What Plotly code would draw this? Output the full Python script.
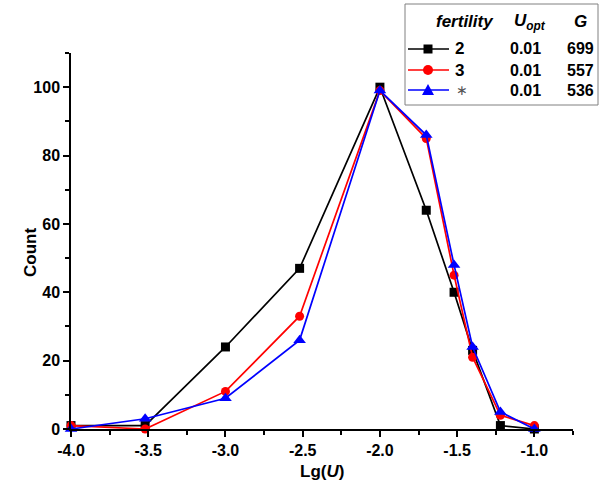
import plotly.graph_objects as go

# Data
lg_u = [-4.0, -3.52, -3.0, -2.52, -2.0, -1.7, -1.52, -1.4, -1.22, -1.0]
count_f2 = [1, 1, 24, 47, 100, 64, 40, 23, 1, 0]
count_f3 = [1, 0, 11, 33, 99, 85, 45, 21, 4, 1]
count_fs = [0, 3, 9, 26, 99, 86, 48, 24, 5, 0]

x_tick_vals = [-4.0, -3.5, -3.0, -2.5, -2.0, -1.5, -1.0]
x_tick_labels = ["-4.0", "-3.5", "-3.0", "-2.5", "-2.0", "-1.5", "-1.0"]

series_names = ["2", "3", "∗"]
series_uopt = ["0.01", "0.01", "0.01"]
series_g = ["699", "557", "536"]
colors = ["#000000", "#ff0000", "#0000ff"]
symbols = ["square", "circle", "triangle-up"]

FONT = "Liberation Sans, Arial, sans-serif"

fig = go.Figure()
for ys, c, s, n in zip([count_f2, count_f3, count_fs], colors, symbols, series_names):
    fig.add_trace(go.Scatter(
        x=lg_u, y=ys, mode="lines+markers", name=n,
        line=dict(color=c, width=1.7),
        marker=dict(color=c, symbol=s, size=9 if s != "triangle-up" else 11),
        cliponaxis=False, showlegend=False))

L, R, T, B = 71, 573, 53, 429
W, H = R - L, B - T


def px(x):
    return (x - L) / W


def py(y):
    return (B - y) / H


fig.update_layout(
    width=600, height=492,
    margin=dict(l=L, r=600 - R, t=T, b=492 - B, autoexpand=False),
    plot_bgcolor="white", paper_bgcolor="white",
    font=dict(family=FONT, size=16, color="black"),
    xaxis=dict(
        range=[-4.0, -0.75], tickmode="array", tickvals=x_tick_vals, ticktext=x_tick_labels,
        automargin=False,
        showline=True, linecolor="black", linewidth=1.5,
        ticks="outside", ticklen=6, tickwidth=1.5, tickcolor="black",
        minor=dict(tick0=-4.0, dtick=0.25, ticks="outside", ticklen=4, tickwidth=1.5, tickcolor="black"),
        showgrid=False, zeroline=False, mirror=False,
        tickfont=dict(family=FONT, size=16, color="black", weight="bold"),
    ),
    yaxis=dict(
        range=[0, 110], tick0=0, dtick=20,
        automargin=False,
        showline=True, linecolor="black", linewidth=1.5,
        ticks="outside", ticklen=6, tickwidth=1.5, tickcolor="black",
        minor=dict(dtick=10, ticks="outside", ticklen=4, tickwidth=1.5, tickcolor="black"),
        showgrid=False, zeroline=False, mirror=False,
        tickfont=dict(family=FONT, size=16, color="black", weight="bold"),
    ),
)

# Legend table box
shapes = [dict(type="rect", xref="paper", yref="paper",
               x0=px(405), x1=px(598), y0=py(105), y1=py(4),
               line=dict(color="#808080", width=1), fillcolor="white")]
annots = []


def ann(x, y, text, size=16, xanchor="center", color="black", textangle=0):
    annots.append(dict(xref="paper", yref="paper", x=px(x), y=py(y), text=text,
                       showarrow=False, xanchor=xanchor, yanchor="middle",
                       textangle=textangle,
                       font=dict(family=FONT, size=size, color=color)))


# axis titles
ann(30, 253, "<b>Count</b>", size=17, textangle=-90)
ann(322, 471, "<b>Lg(<i>U</i>)</b>", size=17)

# legend header
ann(465, 21, "<b><i>fertility</i></b>", size=17)
ann(512, 22, "<b><i>U<sub>opt</sub></i></b>", size=17, xanchor="left")
ann(580, 21, "<b><i>G</i></b>", size=17)

row_y = [49, 70, 90]
for i, yy in enumerate(row_y):
    c = colors[i]
    shapes.append(dict(type="line", xref="paper", yref="paper",
                       x0=px(408), x1=px(449), y0=py(yy), y1=py(yy),
                       line=dict(color=c, width=1.7)))
    cx = 428
    if symbols[i] == "square":
        shapes.append(dict(type="rect", xref="paper", yref="paper",
                           x0=px(cx - 4.5), x1=px(cx + 4.5), y0=py(yy + 4.5), y1=py(yy - 4.5),
                           fillcolor=c, line=dict(width=0)))
    elif symbols[i] == "circle":
        shapes.append(dict(type="circle", xref="paper", yref="paper",
                           x0=px(cx - 5), x1=px(cx + 5), y0=py(yy + 5), y1=py(yy - 5),
                           fillcolor=c, line=dict(width=0)))
    else:
        path = "M {} {} L {} {} L {} {} Z".format(
            px(cx - 6), py(yy + 5), px(cx + 6), py(yy + 5), px(cx), py(yy - 6))
        shapes.append(dict(type="path", xref="paper", yref="paper", path=path,
                           fillcolor=c, line=dict(width=0)))
    if series_names[i] == "∗":
        ann(454, yy, series_names[i], size=14, xanchor="left", color="#555555")
    else:
        ann(453, yy, "<b>" + series_names[i] + "</b>", size=17, xanchor="left")
    ann(525, yy, "<b>" + series_uopt[i] + "</b>", size=16)
    ann(596, yy, "<b>" + series_g[i] + "</b>", size=16, xanchor="right")

fig.update_layout(shapes=shapes, annotations=annots)
fig.write_html("out.html",
               config={"displayModeBar": False},
               post_script="document.body.style.margin='0px';document.body.style.overflow='hidden';")
